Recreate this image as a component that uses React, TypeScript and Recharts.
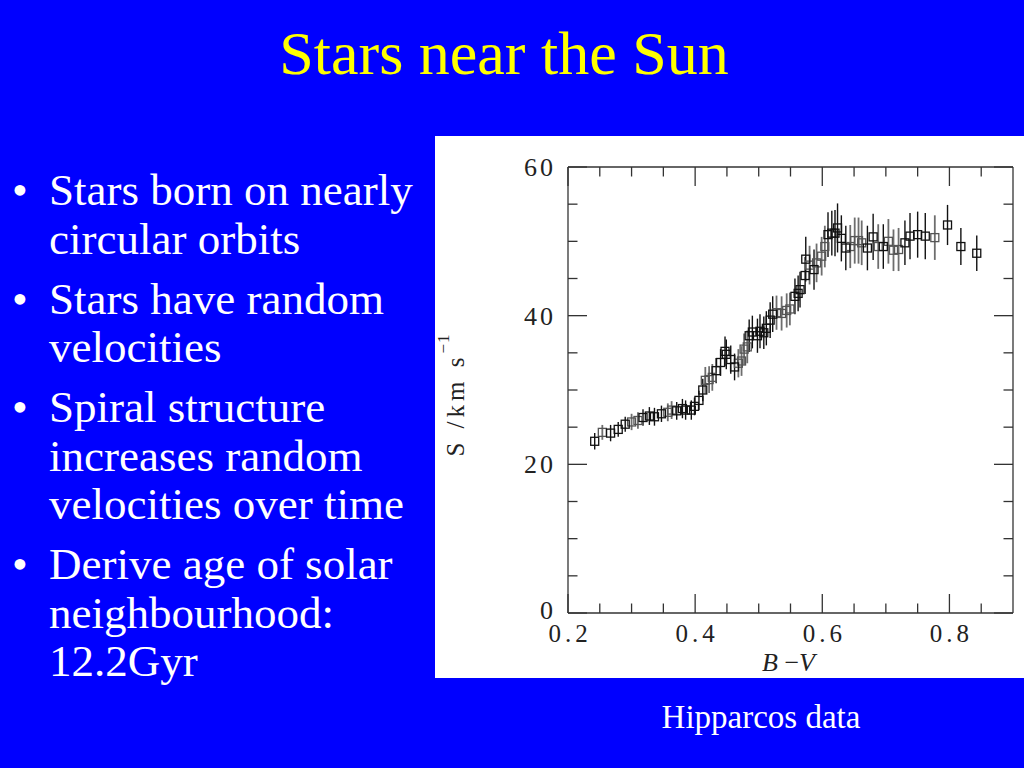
import React from 'react';
import { ScatterChart, Scatter, XAxis, YAxis, ErrorBar } from 'recharts';

// ---- data ----
const bv = [
  0.242, 0.254, 0.267, 0.279, 0.290, 0.300, 0.310, 0.318, 0.328, 0.336,
  0.347, 0.357, 0.363, 0.371, 0.380, 0.385, 0.394, 0.399, 0.406, 0.412,
  0.416, 0.422, 0.427, 0.433, 0.440, 0.447, 0.449, 0.456, 0.462, 0.468,
  0.473, 0.477, 0.482, 0.485, 0.490, 0.498, 0.502, 0.508, 0.512, 0.518,
  0.522, 0.528, 0.536, 0.544, 0.549, 0.557, 0.562, 0.565, 0.573, 0.574,
  0.580, 0.587, 0.591, 0.599, 0.604, 0.609, 0.615, 0.620, 0.624, 0.630,
  0.637, 0.644, 0.651, 0.657, 0.662, 0.671, 0.680, 0.688, 0.696, 0.704,
  0.712, 0.720, 0.730, 0.738, 0.750, 0.762, 0.777, 0.797, 0.818, 0.843,
];
const speed = [
  23.1, 24.3, 24.2, 24.7, 25.4, 25.7, 25.9, 26.3, 26.5, 26.4,
  26.8, 27.0, 27.3, 27.2, 27.5, 27.3, 27.3, 27.8, 28.6, 30.0,
  31.3, 31.4, 31.7, 32.6, 33.7, 35.2, 34.8, 34.1, 33.1, 33.6,
  33.9, 35.5, 35.8, 37.3, 37.8, 37.3, 37.9, 37.7, 38.3, 39.4,
  40.2, 40.4, 40.3, 40.7, 40.9, 42.6, 43.0, 43.5, 45.4, 47.6,
  46.8, 46.2, 47.1, 48.0, 49.3, 50.9, 51.1, 51.1, 51.8, 50.4,
  49.1, 49.3, 50.1, 50.1, 49.8, 49.1, 50.6, 49.3, 49.3, 50.0,
  48.8, 48.9, 49.8, 50.7, 50.9, 50.7, 50.5, 52.2, 49.3, 48.4,
];
const speedErr = [
  1.1, 1.0, 1.1, 1.0, 1.0, 1.1, 1.1, 1.1, 1.2, 1.2,
  1.1, 1.2, 1.2, 1.2, 1.3, 1.3, 1.3, 1.2, 1.3, 1.5,
  1.8, 1.8, 1.8, 1.7, 1.8, 2.0, 2.0, 1.9, 1.8, 1.9,
  2.0, 2.1, 2.2, 2.2, 2.2, 2.3, 2.3, 2.2, 2.3, 2.4,
  2.4, 2.3, 2.3, 2.3, 2.2, 2.4, 2.4, 2.4, 2.5, 3.0,
  2.6, 2.7, 2.6, 2.6, 2.8, 3.0, 3.0, 3.1, 3.3, 3.1,
  3.0, 2.9, 3.1, 3.1, 3.0, 3.0, 3.1, 3.0, 3.0, 3.0,
  2.8, 2.9, 3.0, 3.1, 3.1, 3.1, 3.0, 2.7, 2.5, 2.4,
];
// k = black error bar, g = grey error bar
const shade = [
  'k', 'g', 'k', 'k', 'k', 'g', 'g', 'k', 'k', 'k',
  'k', 'g', 'g', 'k', 'k', 'k', 'k', 'k', 'k', 'k',
  'g', 'g', 'g', 'k', 'k', 'k', 'k', 'k', 'k', 'g',
  'g', 'g', 'g', 'k', 'k', 'k', 'k', 'k', 'k', 'k',
  'k', 'g', 'g', 'g', 'g', 'k', 'k', 'k', 'k', 'k',
  'g', 'k', 'g', 'g', 'g', 'k', 'k', 'k', 'k', 'k',
  'k', 'g', 'g', 'g', 'g', 'k', 'k', 'g', 'k', 'g',
  'g', 'g', 'k', 'k', 'k', 'k', 'g', 'k', 'k', 'k',
];

const xDomain = [0.2, 0.9];
const yDomain = [0, 60];
const xTickValues = [0.2, 0.25, 0.3, 0.35, 0.4, 0.45, 0.5, 0.55, 0.6, 0.65, 0.7, 0.75, 0.8, 0.85];
const xMajorTicks = [0.2, 0.4, 0.6, 0.8];
const yTickValues = [0, 5, 10, 15, 20, 25, 30, 35, 40, 45, 50, 55, 60];
const yMajorTicks = [0, 20, 40, 60];

const bullets = [
  ['Stars born on nearly', 'circular orbits'],
  ['Stars have random', 'velocities'],
  ['Spiral structure', 'increases random', 'velocities over time'],
  ['Derive age of solar', 'neighbourhood:', '12.2Gyr'],
];

// ---- styling ----
const BLUE = '#0000FF';
const AXIS = '#333333';
const TICK_FONT = '"Liberation Serif", "Times New Roman", serif';
const MAJOR_LEN = 19;
const MINOR_LEN = 9.5;

const points = bv.map((x, i) => ({ bv: x, s: speed[i], err: speedErr[i], shade: shade[i] }));
const blackPts = points.filter((p) => p.shade === 'k');
const greyPts = points.filter((p) => p.shade === 'g');

const isMajor = (v: number, list: number[]) => list.some((m) => Math.abs(m - v) < 1e-6);

const BottomTick = (props: any) => {
  const { x, y, payload } = props;
  const major = isMajor(payload.value, xMajorTicks);
  return (
    <g>
      <line x1={x} y1={y} x2={x} y2={y - (major ? MAJOR_LEN : MINOR_LEN)} stroke={AXIS} strokeWidth={1.3} />
      {major && (
        <text x={x + 2} y={y + 29} textAnchor="middle" fontFamily={TICK_FONT} fontSize={25} letterSpacing={4} fill="#222">
          {Number(payload.value).toFixed(1)}
        </text>
      )}
    </g>
  );
};

const TopTick = (props: any) => {
  const { x, y, payload } = props;
  const major = isMajor(payload.value, xMajorTicks);
  return <line x1={x} y1={y} x2={x} y2={y + (major ? MAJOR_LEN : MINOR_LEN)} stroke={AXIS} strokeWidth={1.3} />;
};

const LeftTick = (props: any) => {
  const { x, y, payload } = props;
  const major = isMajor(payload.value, yMajorTicks);
  return (
    <g>
      <line x1={x} y1={y} x2={x + (major ? MAJOR_LEN : MINOR_LEN)} y2={y} stroke={AXIS} strokeWidth={1.3} />
      {major && (
        <text x={x - 12} y={y - (payload.value === 0 ? 3 : 0)} dy="0.35em" textAnchor="end" fontFamily={TICK_FONT} fontSize={26} letterSpacing={3} fill="#222">
          {String(payload.value)}
        </text>
      )}
    </g>
  );
};

const RightTick = (props: any) => {
  const { x, y, payload } = props;
  const major = isMajor(payload.value, yMajorTicks);
  return <line x1={x} y1={y} x2={x - (major ? MAJOR_LEN : MINOR_LEN)} y2={y} stroke={AXIS} strokeWidth={1.3} />;
};

const XTitle = (props: any) => {
  const vb = props.viewBox || { x: 0, y: 0, width: 0, height: 0 };
  return (
    <text x={vb.x + vb.width / 2 - 2} y={vb.y + 58} textAnchor="middle" fontFamily={TICK_FONT} fontSize={26} fill="#222">
      <tspan fontStyle="italic">B</tspan>
      <tspan> −</tspan>
      <tspan fontStyle="italic">V</tspan>
    </text>
  );
};

const YTitle = (props: any) => {
  const vb = props.viewBox || { x: 0, y: 0, width: 0, height: 0 };
  const bx = vb.x + vb.width - 104;
  const by = vb.y + vb.height / 2 + 5;
  return (
    <text transform={`translate(${bx},${by}) rotate(-90)`} textAnchor="middle" fontFamily={TICK_FONT} fontSize={25} letterSpacing={4} fill="#222">
      <tspan>S /km  s</tspan>
      <tspan dy={-15} fontSize={17} letterSpacing={1}>−1</tspan>
    </text>
  );
};

const makeSquare = (color: string) => (p: any) => (
  <rect x={p.cx - 4} y={p.cy - 4} width={8} height={8} fill="none" stroke={color} strokeWidth={1.3} />
);

export default function App() {
  return (
    <div style={{ position: 'absolute', left: 0, top: 0, width: 1024, height: 768, background: BLUE, overflow: 'hidden' }}>
      <svg width={1024} height={768} style={{ position: 'absolute', left: 0, top: 0 }}>
        <text x={504} y={74} textAnchor="middle" fontFamily='"Liberation Serif", "Times New Roman", serif' fontSize={62} fill="#FFFF00">
          Stars near the Sun
        </text>
        {(() => {
          const out: any[] = [];
          let y = 205;
          bullets.forEach((lines, bi) => {
            out.push(
              <text key={`b${bi}`} x={12} y={y} fontFamily='"Liberation Serif", serif' fontSize={45} fill="#FFFFFF">•</text>
            );
            lines.forEach((ln, li) => {
              out.push(
                <text key={`t${bi}-${li}`} x={49} y={y} fontFamily='"Liberation Serif", serif' fontSize={45} fill="#FFFFFF">{ln}</text>
              );
              y += 48.5;
            });
            y += 11.5;
          });
          return out;
        })()}
        <text x={761} y={728} textAnchor="middle" fontFamily='"Liberation Serif", serif' fontSize={33} fill="#FFFFFF">
          Hipparcos data
        </text>
      </svg>
      <div style={{ position: 'absolute', left: 435, top: 136, width: 589, height: 542, background: '#FFFFFF' }}>
        <ScatterChart width={589} height={542} margin={{ top: 30, right: 10, bottom: 64, left: 132 }}>
          <XAxis
            xAxisId="bottom"
            dataKey="bv"
            type="number"
            domain={xDomain}
            allowDataOverflow
            ticks={xTickValues}
            interval={0}
            height={1}
            tickSize={0}
            tickMargin={0}
            tickLine={false}
            axisLine={{ stroke: AXIS, strokeWidth: 1.3 }}
            tick={<BottomTick />}
            label={<XTitle />}
          />
          <XAxis
            xAxisId="top"
            orientation="top"
            dataKey="bv"
            type="number"
            domain={xDomain}
            allowDataOverflow
            ticks={xTickValues}
            interval={0}
            height={1}
            tickSize={0}
            tickMargin={0}
            tickLine={false}
            axisLine={{ stroke: AXIS, strokeWidth: 1.3 }}
            tick={<TopTick />}
          />
          <YAxis
            yAxisId="left"
            dataKey="s"
            type="number"
            domain={yDomain}
            allowDataOverflow
            ticks={yTickValues}
            interval={0}
            width={1}
            tickSize={0}
            tickMargin={0}
            tickLine={false}
            axisLine={{ stroke: AXIS, strokeWidth: 1.3 }}
            tick={<LeftTick />}
            label={<YTitle />}
          />
          <YAxis
            yAxisId="right"
            orientation="right"
            dataKey="s"
            type="number"
            domain={yDomain}
            allowDataOverflow
            ticks={yTickValues}
            interval={0}
            width={1}
            tickSize={0}
            tickMargin={0}
            tickLine={false}
            axisLine={{ stroke: AXIS, strokeWidth: 1.3 }}
            tick={<RightTick />}
          />
          <Scatter
            data={greyPts}
            xAxisId="top"
            yAxisId="right"
            isAnimationActive={false}
            shape={makeSquare('#555555')}
          >
            <ErrorBar dataKey="err" direction="y" width={0} stroke="#6e6e6e" strokeWidth={1.8} isAnimationActive={false} />
          </Scatter>
          <Scatter
            data={blackPts}
            xAxisId="bottom"
            yAxisId="left"
            isAnimationActive={false}
            shape={makeSquare('#111111')}
          >
            <ErrorBar dataKey="err" direction="y" width={0} stroke="#111111" strokeWidth={1.4} isAnimationActive={false} />
          </Scatter>
        </ScatterChart>
      </div>
    </div>
  );
}
